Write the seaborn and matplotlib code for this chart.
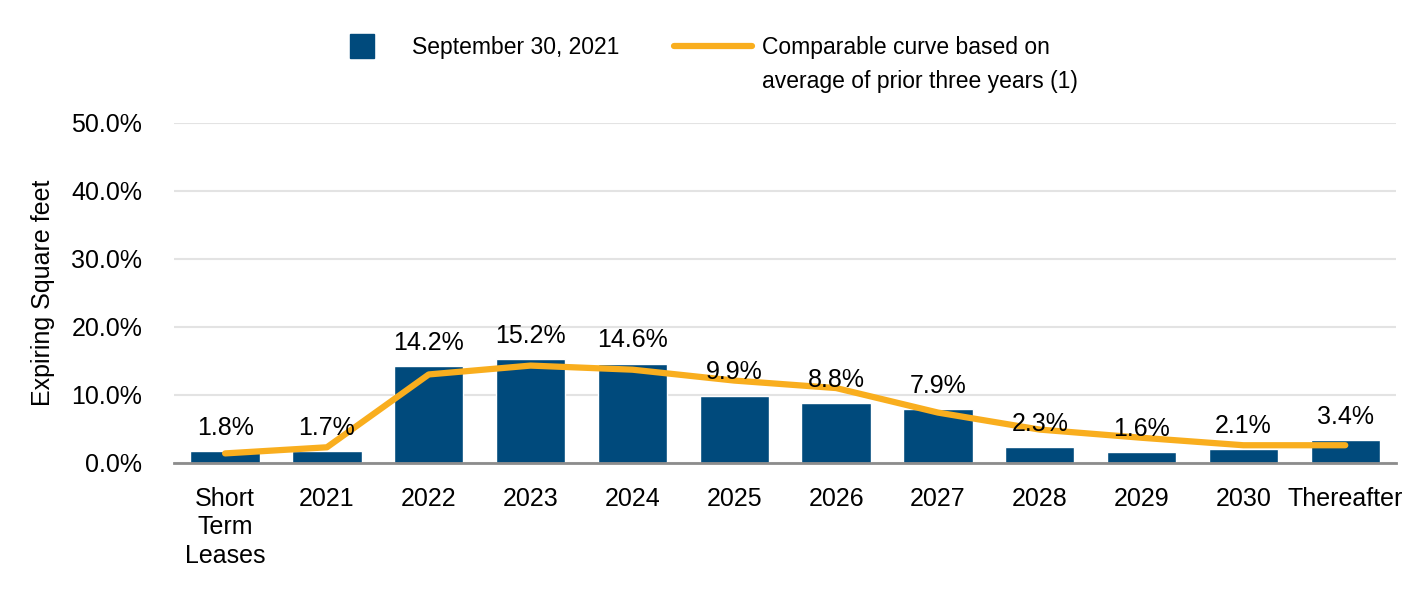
import numpy as np
import matplotlib
matplotlib.use("Agg")
import matplotlib.pyplot as plt
import seaborn as sns
from matplotlib.lines import Line2D

# data
categories = ["Short\nTerm\nLeases", "2021", "2022", "2023", "2024", "2025",
              "2026", "2027", "2028", "2029", "2030", "Thereafter"]
sep_2021 = [1.8, 1.7, 14.2, 15.2, 14.6, 9.9, 8.8, 7.9, 2.3, 1.6, 2.1, 3.4]
prior_avg = [1.4, 2.3, 13.0, 14.3, 13.7, 12.1, 11.0, 7.4, 4.9, 3.7, 2.6, 2.6]
bar_labels = ["1.8%", "1.7%", "14.2%", "15.2%", "14.6%", "9.9%", "8.8%",
              "7.9%", "2.3%", "1.6%", "2.1%", "3.4%"]
yticks = [0, 10, 20, 30, 40, 50]

navy = "#004A7C"
orange = "#F9AE1E"

sns.set_style("white")
plt.rcParams["font.family"] = ["Liberation Sans", "DejaVu Sans"]
plt.rcParams["text.color"] = "black"
plt.rcParams["xtick.color"] = "black"
plt.rcParams["ytick.color"] = "black"
plt.rcParams["axes.labelcolor"] = "black"

fig = plt.figure(figsize=(14.16, 5.92), dpi=100)
ax = fig.add_axes([0.123, 0.218, 0.863, 0.575])

sns.barplot(x=categories, y=sep_2021, color=navy, width=0.68, ax=ax,
            saturation=1)
sns.lineplot(x=np.arange(len(categories)), y=prior_avg, color=orange,
             linewidth=4.5, ax=ax)

ax.bar_label(ax.containers[0], labels=bar_labels, padding=8, fontsize=18)

ax.set_ylim(0, 50)
ax.set_xlim(-0.5, len(categories) - 0.5)
ax.set_yticks(yticks)
ax.set_yticklabels([f"{t:.1f}%" for t in yticks], fontsize=18)
ax.tick_params(axis="x", labelsize=18, length=0, pad=17)
ax.tick_params(axis="y", length=0, pad=23)
for lbl in ax.get_xticklabels():
    lbl.set_linespacing(1.25)
ax.yaxis.grid(True, color="#E3E3E3", linewidth=1.5)
ax.set_axisbelow(True)
for s in ["top", "right", "left"]:
    ax.spines[s].set_visible(False)
ax.spines["bottom"].set_color("#8C8C8C")
ax.spines["bottom"].set_linewidth(2)
ax.set_ylabel("Expiring Square feet", fontsize=18, labelpad=12)
ax.set_xlabel("")

# legend: blank entries give the second text line its own row
blank = Line2D([0], [0], color="none")
handles = [
    Line2D([0], [0], marker="s", color="none", markerfacecolor=navy,
           markeredgecolor=navy, markersize=17),
    blank,
    Line2D([0], [0], color=orange, linewidth=4.5),
    blank,
]
labels = ["September 30, 2021", "", "Comparable curve based on",
          "average of prior three years (1)"]
fig.legend(handles, labels, loc="upper left",
           bbox_to_anchor=(312 / 1416, 1 - 25 / 592), ncol=2,
           frameon=False, fontsize=16.5, handlelength=3.4, handletextpad=0.45,
           columnspacing=2.4, borderpad=0, labelspacing=0.45)

fig.savefig("out.png", dpi=100)
